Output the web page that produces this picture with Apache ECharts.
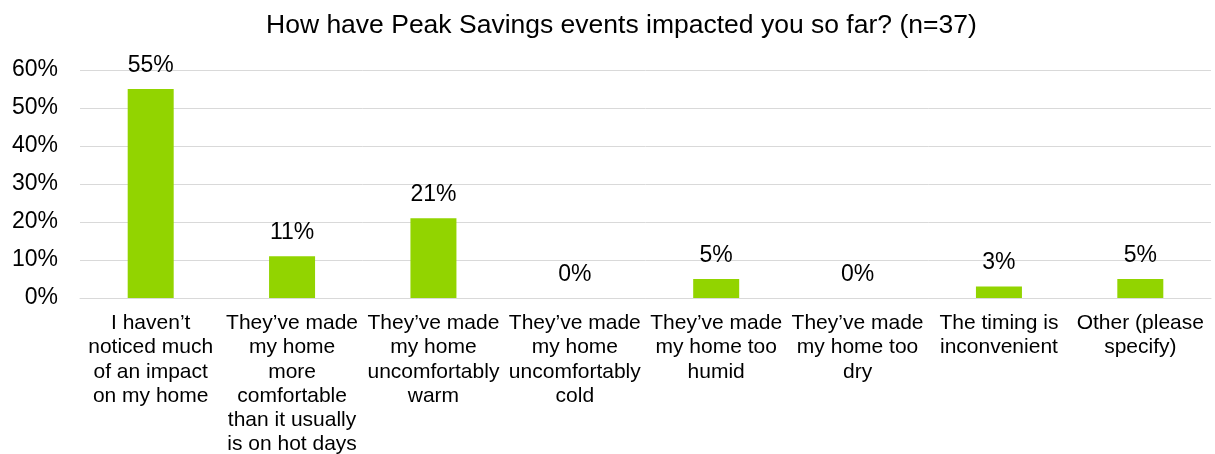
<!DOCTYPE html>
<html>
<head>
<meta charset="utf-8">
<script src="https://cdn.jsdelivr.net/npm/echarts@6/dist/echarts.min.js"></script>
<style>
  html, body { margin: 0; padding: 0; background: #ffffff; }
  #chart { width: 1215px; height: 454px; }
</style>
</head>
<body>
<div id="chart"></div>
<script>
// Survey responses: share of respondents per answer
const titleText = 'How have Peak Savings events impacted you so far? (n=37)';
const categories = [
  'I haven\u2019t\nnoticed much\nof an impact\non my home',
  'They\u2019ve made\nmy home\nmore\ncomfortable\nthan it usually\nis on hot days',
  'They\u2019ve made\nmy home\nuncomfortably\nwarm',
  'They\u2019ve made\nmy home\nuncomfortably\ncold',
  'They\u2019ve made\nmy home too\nhumid',
  'They\u2019ve made\nmy home too\ndry',
  'The timing is\ninconvenient',
  'Other (please\nspecify)'
];
const shares = [55, 11, 21, 0, 5, 0, 3, 5];
const yTicks = [0, 10, 20, 30, 40, 50, 60];

const FONT = '"Liberation Sans", Arial, sans-serif';
const chart = echarts.init(document.getElementById('chart'), null, { renderer: 'canvas' });

chart.setOption({
  animation: false,
  backgroundColor: '#ffffff',
  title: {
    text: titleText,
    left: 261,
    top: 7,
    textStyle: { fontFamily: FONT, fontSize: 26.5, fontWeight: 'normal', color: '#000000' }
  },
  grid: {
    left: 80, right: 4, top: 70, bottom: 156,
    containLabel: false,
    outerBoundsMode: 'none'
  },
  xAxis: {
    type: 'category',
    data: categories,
    axisLine: { show: true, lineStyle: { color: '#d9d9d9', width: 1 } },
    axisTick: { show: false },
    axisLabel: {
      interval: 0,
      margin: 13,
      fontFamily: FONT,
      fontSize: 21,
      lineHeight: 24.3,
      color: '#000000',
      align: 'center'
    }
  },
  yAxis: {
    type: 'value',
    min: yTicks[0],
    max: yTicks[yTicks.length - 1],
    interval: 10,
    axisLine: { show: false },
    axisTick: { show: false },
    splitLine: { show: true, lineStyle: { color: '#d9d9d9', width: 1 } },
    axisLabel: {
      margin: 22,
      padding: [2, 0, 0, 0],
      fontFamily: FONT,
      fontSize: 23,
      color: '#000000',
      formatter: v => v + '%'
    }
  },
  series: [{
    type: 'bar',
    data: shares,
    barWidth: 46,
    itemStyle: { color: '#92d400' },
    label: {
      show: true,
      position: 'top',
      distance: 12,
      fontFamily: FONT,
      fontSize: 23,
      color: '#000000',
      formatter: p => p.value + '%'
    }
  }]
});
</script>
</body>
</html>
